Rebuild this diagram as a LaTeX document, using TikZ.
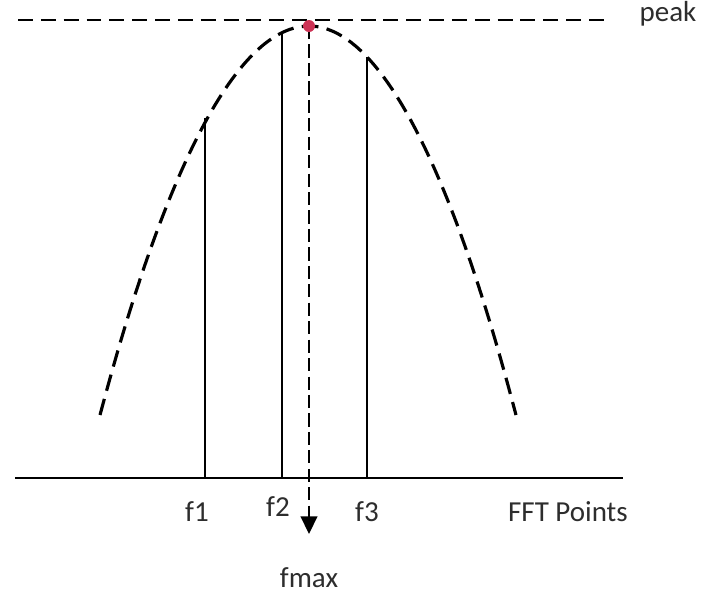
\documentclass[tikz,border=0pt]{standalone}
\usepackage{fontspec}
\setmainfont{Carlito}
\usepackage{tikz}
\usetikzlibrary{arrows.meta, positioning, calc}
\definecolor{peakcolor}{RGB}{205,50,85}
\definecolor{labelcolor}{RGB}{45,45,45}

\begin{document}
\begin{tikzpicture}[
    x=0.02cm, y=-0.02cm,
    curve/.style={line width=1.8pt, dash pattern=on 9.5pt off 4.8pt, line cap=butt},
    peakline/.style={line width=0.9pt, dash pattern=on 8.5pt off 4.5pt},
    fmaxline/.style={line width=0.9pt, dash pattern=on 7.5pt off 3pt},
    bar/.style={line width=0.8pt},
    axis/.style={line width=0.9pt},
    lbl/.style={text=labelcolor, font=\fontsize{16.5}{18}\selectfont, inner sep=0pt}
]
\useasboundingbox (0,0) rectangle (713,593);

% curve points and base points
\coordinate (peak) at (309,26);
\coordinate (top1) at (205,118);
\coordinate (top2) at (282,33);
\coordinate (top3) at (367,57);
\coordinate (base1) at (205,478);
\coordinate (base2) at (282,478);
\coordinate (base3) at (367,478);
\coordinate (axisL) at (15,478);
\coordinate (axisR) at (623,478);
\coordinate (peakL) at (18,20);
\coordinate (peakR) at (605,20);
\coordinate (fmaxend) at (309,534);

% dashed peak line and curve
\draw[peakline] (peakL) -- (peakR);
\draw[curve] (100,415) parabola bend (peak) (516,415);

% axis and bars
\draw[axis] (axisL) -- (axisR);
\draw[bar] (top1) -- (base1);
\draw[bar] (top2) -- (base2);
\draw[bar] (top3) -- (base3);

% fmax marker
\draw[fmaxline, -{Triangle[length=10pt, width=9.5pt]}] (peak) -- (fmaxend);
\fill[peakcolor] (peak) circle (0.12cm);

% labels
\node[lbl] (f1) at (197,512) {f1};
\node[lbl] (f2) at (278,507) {f2};
\node[lbl] (f3) at (367,512) {f3};
\node[lbl] (fft) at (568,512) {FFT Points};
\node[lbl] (fmax) at (309,578) {fmax};
\node[lbl] (peaklbl) at (668,14) {peak};
\end{tikzpicture}
\end{document}
